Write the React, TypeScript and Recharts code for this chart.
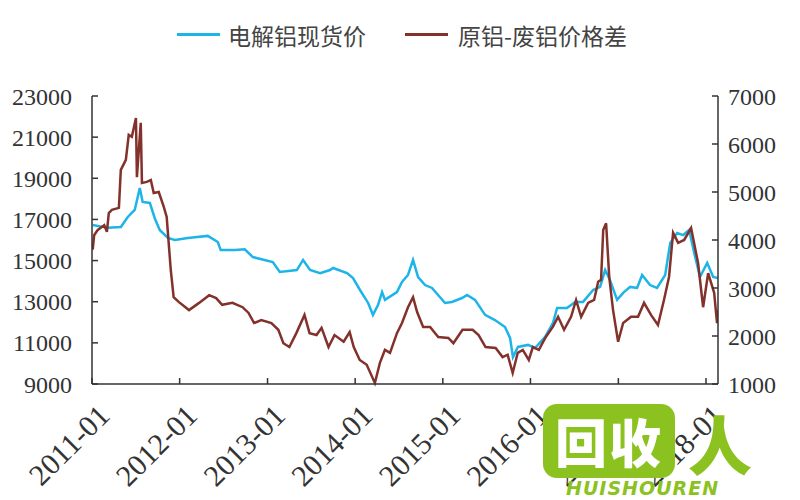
import { LineChart, Line, XAxis, YAxis, Legend } from 'recharts';

// 电解铝现货价 (left axis, 元/吨)
const spotDates = [
  '2011-01-04', '2011-03-08', '2011-05-01', '2011-05-30', '2011-06-28', '2011-07-19', '2011-07-31',
  '2011-08-30', '2011-09-19', '2011-10-10', '2011-11-13', '2011-12-12', '2012-02-04', '2012-04-27',
  '2012-06-08', '2012-06-20', '2012-08-18', '2012-09-28', '2012-11-01', '2013-01-23', '2013-02-21',
  '2013-05-03', '2013-05-29', '2013-06-27', '2013-08-08', '2013-09-18', '2013-10-01', '2013-11-28',
  '2013-12-23', '2014-01-21', '2014-02-24', '2014-03-16', '2014-04-06', '2014-04-23', '2014-05-05',
  '2014-06-24', '2014-07-15', '2014-08-09', '2014-08-30', '2014-09-20', '2014-10-19', '2014-11-17',
  '2015-01-10', '2015-02-08', '2015-03-22', '2015-04-12', '2015-05-15', '2015-06-26', '2015-08-06',
  '2015-09-17', '2015-10-08', '2015-10-20', '2015-11-10', '2015-12-22', '2016-01-20', '2016-03-02',
  '2016-04-04', '2016-04-21', '2016-06-01', '2016-07-05', '2016-08-07', '2016-09-18', '2016-10-17',
  '2016-11-07', '2016-11-27', '2016-12-27', '2017-01-21', '2017-02-19', '2017-03-20', '2017-04-10',
  '2017-05-13', '2017-06-11', '2017-07-15', '2017-08-05', '2017-09-03', '2017-09-28', '2017-10-23',
  '2017-11-13', '2017-12-07', '2018-01-06', '2018-01-31', '2018-02-20',
];
const spotPrice = [
  16730, 16590, 16630, 17120, 17460, 18530, 17850,
  17800, 17070, 16490, 16100, 16000, 16100, 16200,
  15900, 15510, 15510, 15550, 15170, 14930, 14450,
  14540, 15030, 14540, 14390, 14540, 14640, 14390,
  14150, 13570, 12940, 12360, 12840, 13470, 13090,
  13470, 13960, 14300, 15030, 14200, 13810, 13670,
  12940, 12990, 13180, 13330, 13090, 12360, 12110,
  11770, 11240, 10310, 10800, 10900, 10750, 11290,
  11970, 12700, 12700, 12990, 12990, 13570, 13720,
  14540, 14060, 13090, 13430, 13720, 13670, 14300,
  13810, 13670, 14300, 15860, 16340, 16240, 16490,
  15370, 14200, 14880, 14200, 14150,
];

// 原铝-废铝价格差 (right axis)
const spreadDates = [
  '2011-01-04', '2011-01-10', '2011-01-25', '2011-02-21', '2011-03-04', '2011-03-12', '2011-03-25',
  '2011-04-23', '2011-05-01', '2011-05-22', '2011-06-03', '2011-06-16', '2011-07-03', '2011-07-07',
  '2011-07-23', '2011-07-28', '2011-08-17', '2011-09-03', '2011-09-15', '2011-10-06', '2011-10-27',
  '2011-11-08', '2011-11-25', '2011-12-07', '2011-12-28', '2012-02-09', '2012-03-22', '2012-05-03',
  '2012-06-01', '2012-06-26', '2012-08-08', '2012-09-19', '2012-10-14', '2012-11-06', '2012-12-06',
  '2013-01-17', '2013-02-15', '2013-03-08', '2013-04-02', '2013-05-01', '2013-06-04', '2013-06-25',
  '2013-07-24', '2013-08-14', '2013-09-12', '2013-10-07', '2013-11-14', '2013-12-09', '2013-12-26',
  '2014-01-20', '2014-02-18', '2014-03-24', '2014-04-14', '2014-05-05', '2014-05-26', '2014-06-24',
  '2014-07-15', '2014-08-09', '2014-08-30', '2014-09-16', '2014-10-11', '2014-11-09', '2014-12-13',
  '2015-01-24', '2015-02-14', '2015-03-24', '2015-05-05', '2015-05-30', '2015-06-28', '2015-08-09',
  '2015-09-07', '2015-09-28', '2015-10-19', '2015-11-09', '2015-11-30', '2015-12-25', '2016-01-11',
  '2016-02-05', '2016-03-05', '2016-04-03', '2016-04-25', '2016-05-20', '2016-06-18', '2016-07-09',
  '2016-07-30', '2016-08-28', '2016-09-22', '2016-10-09', '2016-10-21', '2016-10-30', '2016-11-11',
  '2016-11-24', '2016-12-10', '2016-12-31', '2017-01-21', '2017-02-23', '2017-03-24', '2017-04-18',
  '2017-05-17', '2017-06-15', '2017-07-10', '2017-07-31', '2017-08-17', '2017-09-07', '2017-10-02',
  '2017-10-31', '2017-11-29', '2017-12-20', '2018-01-10', '2018-02-04', '2018-02-16', '2018-02-20',
];
const spreadValue = [
  3800, 4100, 4210, 4310, 4170, 4560, 4630,
  4670, 5460, 5670, 6190, 6150, 6540, 5310,
  6440, 5190, 5210, 5250, 4980, 5000, 4690,
  4480, 3380, 2810, 2710, 2540, 2690, 2850,
  2790, 2650, 2690, 2600, 2480, 2270, 2330,
  2270, 2130, 1850, 1770, 2060, 2440, 2060,
  2020, 2170, 1770, 2020, 1880, 2080, 1770,
  1500, 1400, 1020, 1440, 1710, 1650, 2060,
  2270, 2600, 2810, 2500, 2190, 2190, 1980,
  1960, 1850, 2130, 2130, 2020, 1770, 1750,
  1560, 1610, 1230, 1650, 1710, 1500, 1770,
  1710, 1980, 2190, 2400, 2130, 2400, 2750,
  2400, 2690, 2750, 3130, 3170, 4210, 4350,
  3230, 2540, 1880, 2270, 2400, 2400, 2690,
  2440, 2230, 2750, 3230, 4150, 3940, 4000,
  4250, 3520, 2600, 3310, 2900, 2270, 2540,
];

const leftTicks = [9000, 11000, 13000, 15000, 17000, 19000, 21000, 23000];
const rightTicks = [1000, 2000, 3000, 4000, 5000, 6000, 7000];
const yearTicks = [2011, 2012, 2013, 2014, 2015, 2016, 2017, 2018];

const spotData = spotDates.map((d, i) => ({ t: Date.parse(d), v: spotPrice[i] }));
const spreadData = spreadDates.map((d, i) => ({ t: Date.parse(d), v: spreadValue[i] }));
const xTicks = yearTicks.map((y) => Date.UTC(y, 0, 1));

const BLUE = '#1db4e8';
const BROWN = '#83312b';
const serif = '"Liberation Serif", serif';
const cjk = '"Noto Sans CJK SC", sans-serif';

const XTick = ({ x, y, payload }: any) => (
  <text
    x={x + 4}
    y={y}
    dy="0.72em"
    textAnchor="end"
    transform={`rotate(-45 ${x + 4} ${y})`}
    style={{ fontFamily: serif }}
    fontSize={30}
    fill="#333"
  >
    {new Date(payload.value).getUTCFullYear() + '-01'}
  </text>
);

const LegendBox = () => (
  <div style={{ position: 'relative', width: 800, height: 96, fontFamily: cjk, fontSize: 23, color: '#444' }}>
    <div style={{ position: 'absolute', left: 177, top: 33, width: 43, height: 3, background: BLUE }} />
    <div style={{ position: 'absolute', left: 228, top: 18, whiteSpace: 'nowrap' }}>电解铝现货价</div>
    <div style={{ position: 'absolute', left: 405, top: 33, width: 43, height: 3, background: BROWN }} />
    <div style={{ position: 'absolute', left: 458, top: 18, whiteSpace: 'nowrap' }}>原铝-废铝价格差</div>
  </div>
);

const yTickStyle = { fontFamily: serif, fontSize: 24, fill: '#333' };

export default function App() {
  return (
    <div style={{ position: 'absolute', left: 0, top: 0, width: 800, height: 500, background: '#fff' }}>
      <LineChart width={800} height={500} margin={{ top: 0, right: 0, bottom: 0, left: 0 }}>
        <Legend verticalAlign="top" content={<LegendBox />} wrapperStyle={{ left: 0, top: 0, width: 800, height: 96 }} />
        <XAxis
          dataKey="t"
          type="number"
          scale="time"
          domain={[Date.UTC(2011, 0, 1), Date.UTC(2018, 1, 20)]}
          ticks={xTicks}
          interval={0}
          tick={<XTick />}
          tickSize={-6}
          tickMargin={24}
          height={116}
          stroke="#333"
          strokeWidth={1.5}
          allowDataOverflow
        />
        <YAxis
          yAxisId="left"
          domain={[9000, 23000]}
          ticks={leftTicks}
          width={92}
          tickSize={-6}
          tickMargin={26}
          stroke="#333"
          strokeWidth={1.5}
          tick={yTickStyle}
          interval={0}
        />
        <YAxis
          yAxisId="right"
          orientation="right"
          domain={[1000, 7000]}
          ticks={rightTicks}
          width={82}
          tickSize={-6}
          tickMargin={16}
          stroke="#333"
          strokeWidth={1.5}
          tick={yTickStyle}
          interval={0}
        />
        <Line
          yAxisId="left"
          data={spotData}
          dataKey="v"
          name="电解铝现货价"
          stroke={BLUE}
          strokeWidth={2.5}
          dot={false}
          type="linear"
          isAnimationActive={false}
        />
        <Line
          yAxisId="right"
          data={spreadData}
          dataKey="v"
          name="原铝-废铝价格差"
          stroke={BROWN}
          strokeWidth={2.5}
          dot={false}
          type="linear"
          isAnimationActive={false}
        />
      </LineChart>
      {/* watermark */}
      <div style={{ position: 'absolute', left: 543, top: 404, width: 132, height: 74, background: '#8cc21f', borderRadius: 14, color: '#fff', fontFamily: cjk, fontWeight: 900, fontSize: 52, lineHeight: '74px', textAlign: 'center', letterSpacing: 2 }}>
        回收
      </div>
      <div style={{ position: 'absolute', left: 688, top: 410, color: '#8cc21f', fontFamily: cjk, fontWeight: 900, fontSize: 64, lineHeight: '64px' }}>人</div>
      <div style={{ position: 'absolute', left: 566, top: 478, color: '#8cc21f', fontFamily: '"DejaVu Sans", sans-serif', fontWeight: 'bold', fontStyle: 'italic', fontSize: 19, lineHeight: '20px', letterSpacing: 1 }}>
        HUISHOUREN
      </div>
    </div>
  );
}
